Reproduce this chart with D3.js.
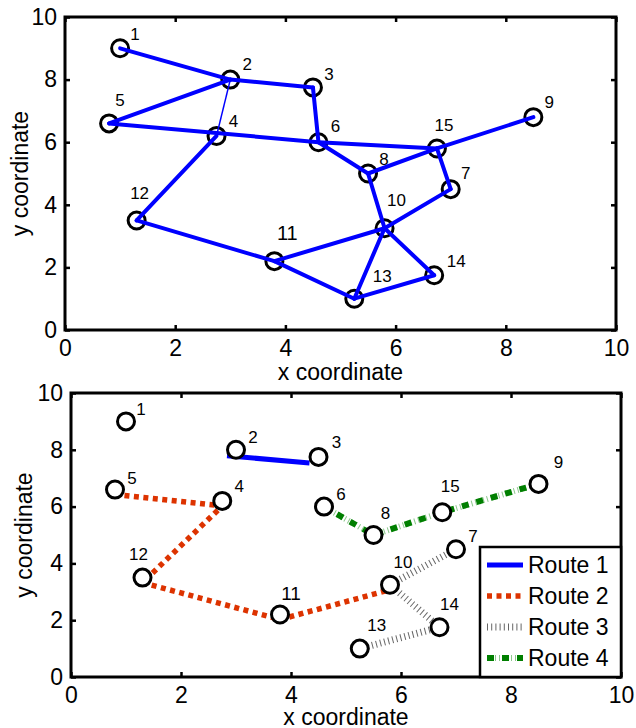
<!DOCTYPE html>
<html>
<head>
  <meta charset="utf-8">
  <script src="https://d3js.org/d3.v7.min.js"></script>
  <style>
    body { margin: 0; padding: 0; background: white; }
    svg { display: block; font-family: 'Liberation Sans', Arial, sans-serif; }
  </style>
</head>
<body>
<svg id="chart" width="636" height="728"></svg>
<script>
  // node data
  const nodeIds = [1, 2, 3, 4, 5, 6, 7, 8, 9, 10, 11, 12, 13, 14, 15];
  const nodeX = [1.0, 3.0, 4.5, 2.75, 0.8, 4.6, 7.0, 5.5, 8.5, 5.8, 3.8, 1.3, 5.25, 6.7, 6.75];
  const nodeY = [9.0, 8.0, 7.75, 6.2, 6.6, 6.0, 4.5, 5.0, 6.8, 3.25, 2.2, 3.5, 1.0, 1.75, 5.8];

  // network edges (top plot)
  const edges = [[1, 2], [2, 3], [2, 5], [3, 6], [5, 6], [6, 15], [15, 9], [6, 8], [8, 15],
                 [15, 7], [7, 10], [8, 10], [4, 12], [12, 11], [11, 10], [11, 13], [10, 13],
                 [10, 14], [13, 14]];
  const thinEdges = [[2, 4]];

  // routes (bottom plot)
  const routeNames = ["Route 1", "Route 2", "Route 3", "Route 4"];
  const routeStops = [[2, 3], [5, 4, 12, 11, 10], [13, 14, 10, 7], [6, 8, 15, 9]];

  const tickValues = [0, 2, 4, 6, 8, 10];
  const xLabel = "x coordinate", yLabel = "y coordinate";

  // label nudges in pixels (layout only)
  const topLabelNudge = [[15, -14], [17, -15], [16, -13], [17, -14], [11, -23], [17, -16], [15, -16],
    [16, -14], [16, -15], [12, -28], [13, -28], [3, -27], [28, -22], [22, -14], [7, -23]];
  const botLabelNudge = [[15, -12], [17, -12], [18, -14], [17, -14], [17, -11], [17, -12], [17, -13],
    [12, -22], [20, -21], [13, -22], [11, -21], [-4, -23], [17, -23], [10, -23], [8, -26]];

  const nodes = nodeIds.map((id, i) => ({ id: id, x: nodeX[i], y: nodeY[i] }));
  const byId = new Map(nodes.map(d => [d.id, d]));

  const svg = d3.select("#chart");
  const FS = 23;

  function makeAxes(x0, x1, yBottom, yTop, labelX, xLabelY) {
    const x = d3.scaleLinear().domain([0, 10]).range([x0, x1]);
    const y = d3.scaleLinear().domain([0, 10]).range([yBottom, yTop]);
    const g = svg.append("g");

    const ax = g.append("g").attr("transform", `translate(0,${yBottom})`)
      .call(d3.axisBottom(x).tickValues(tickValues).tickSizeInner(-5).tickSizeOuter(0).tickPadding(10));
    const axT = g.append("g").attr("transform", `translate(0,${yTop})`)
      .call(d3.axisTop(x).tickValues(tickValues).tickSizeInner(-5).tickSizeOuter(0).tickFormat(""));
    const ay = g.append("g").attr("transform", `translate(${x0},0)`)
      .call(d3.axisLeft(y).tickValues(tickValues).tickSizeInner(-5).tickSizeOuter(0).tickPadding(8));
    const ayR = g.append("g").attr("transform", `translate(${x1},0)`)
      .call(d3.axisRight(y).tickValues(tickValues).tickSizeInner(-5).tickSizeOuter(0).tickFormat(""));

    [ax, axT, ay, ayR].forEach(a => {
      a.select(".domain").remove();
      a.selectAll("line").attr("stroke", "#000").attr("stroke-width", 2.5);
      a.selectAll("text").attr("font-size", FS).attr("fill", "#000")
        .attr("font-family", "'Liberation Sans', Arial, sans-serif");
    });
    ax.selectAll("text").attr("dy", "0.71em");

    g.append("rect")
      .attr("x", x0).attr("y", yTop).attr("width", x1 - x0).attr("height", yBottom - yTop)
      .attr("fill", "none").attr("stroke", "#000").attr("stroke-width", 3);

    g.append("text").attr("x", (x0 + x1) / 2).attr("y", xLabelY)
      .attr("text-anchor", "middle").attr("font-size", FS).text(xLabel);
    g.append("text")
      .attr("transform", `translate(${labelX},${(yTop + yBottom) / 2}) rotate(-90)`)
      .attr("text-anchor", "middle").attr("font-size", FS).text(yLabel);
    return { x, y };
  }

  // ---------- top: network ----------
  const upper = makeAxes(65, 616, 330, 17, 28, 380);
  const gTop = svg.append("g");

  gTop.selectAll("circle").data(nodes).join("circle")
    .attr("cx", d => upper.x(d.x)).attr("cy", d => upper.y(d.y)).attr("r", 8.5)
    .attr("fill", "none").attr("stroke", "#000").attr("stroke-width", 3);

  gTop.selectAll("line.e").data(edges).join("line").attr("class", "e")
    .attr("x1", d => upper.x(byId.get(d[0]).x)).attr("y1", d => upper.y(byId.get(d[0]).y))
    .attr("x2", d => upper.x(byId.get(d[1]).x)).attr("y2", d => upper.y(byId.get(d[1]).y))
    .attr("stroke", "#0000ff").attr("stroke-width", 4).attr("stroke-linecap", "round");

  gTop.selectAll("line.t").data(thinEdges).join("line").attr("class", "t")
    .attr("x1", d => upper.x(byId.get(d[0]).x)).attr("y1", d => upper.y(byId.get(d[0]).y))
    .attr("x2", d => upper.x(byId.get(d[1]).x)).attr("y2", d => upper.y(byId.get(d[1]).y))
    .attr("stroke", "#0000ff").attr("stroke-width", 1.5);

  gTop.selectAll("text").data(nodes).join("text")
    .attr("x", (d, i) => upper.x(d.x) + topLabelNudge[i][0])
    .attr("y", (d, i) => upper.y(d.y) + topLabelNudge[i][1])
    .attr("text-anchor", "middle").attr("dominant-baseline", "central")
    .attr("font-size", d => d.id === 11 ? 20 : 17).text(d => d.id);

  // ---------- bottom: routes ----------
  const lower = makeAxes(71, 621, 677, 393, 32, 725);
  const gBot = svg.append("g");

  // per-route styling: list of stroke layers and a small pixel shift
  const routeStyle = [
    { shift: [-9, 6], layers: [{ c: "#0000ff", w: 5, dash: null }] },
    { shift: [0, 5], layers: [{ c: "#dd3300", w: 5.5, dash: "5 4.5" }] },
    { shift: [0, 0], layers: [{ c: "#666", w: 7, dash: "1 3.2" }] },
    { shift: [0, 0], layers: [{ c: "#8cc88c", w: 6, dash: "1 3" }, { c: "#007f00", w: 6, dash: "7 8" }] }
  ];

  const line = d3.line();
  routeStops.forEach((stops, r) => {
    const st = routeStyle[r];
    const pts = stops.map(id => [lower.x(byId.get(id).x) + st.shift[0], lower.y(byId.get(id).y) + st.shift[1]]);
    st.layers.forEach(l => {
      gBot.append("path").attr("d", line(pts)).attr("fill", "none")
        .attr("stroke", l.c).attr("stroke-width", l.w)
        .attr("stroke-dasharray", l.dash);
    });
  });

  gBot.selectAll("circle").data(nodes).join("circle")
    .attr("cx", d => lower.x(d.x)).attr("cy", d => lower.y(d.y)).attr("r", 8.5)
    .attr("fill", "#fff").attr("stroke", "#000").attr("stroke-width", 3);

  gBot.selectAll("text").data(nodes).join("text")
    .attr("x", (d, i) => lower.x(d.x) + botLabelNudge[i][0])
    .attr("y", (d, i) => lower.y(d.y) + botLabelNudge[i][1])
    .attr("text-anchor", "middle").attr("dominant-baseline", "central")
    .attr("font-size", d => d.id === 11 ? 19 : 17).text(d => d.id);

  // legend
  const lg = svg.append("g");
  const lx0 = 480, lx1 = 621, ly0 = 547, ly1 = 677;
  lg.append("rect").attr("x", lx0).attr("y", ly0).attr("width", lx1 - lx0).attr("height", ly1 - ly0)
    .attr("fill", "#fff").attr("stroke", "#000").attr("stroke-width", 2.5);
  const rowY = d3.scalePoint().domain(routeNames).range([565, 658]);
  routeNames.forEach((name, r) => {
    const yy = rowY(name);
    routeStyle[r].layers.forEach(l => {
      lg.append("line").attr("x1", 487).attr("x2", 523).attr("y1", yy).attr("y2", yy)
        .attr("stroke", l.c).attr("stroke-width", l.w).attr("stroke-dasharray", l.dash);
    });
    lg.append("text").attr("x", 528).attr("y", yy).attr("dominant-baseline", "central")
      .attr("font-size", FS).text(name);
  });
</script>
</body>
</html>
